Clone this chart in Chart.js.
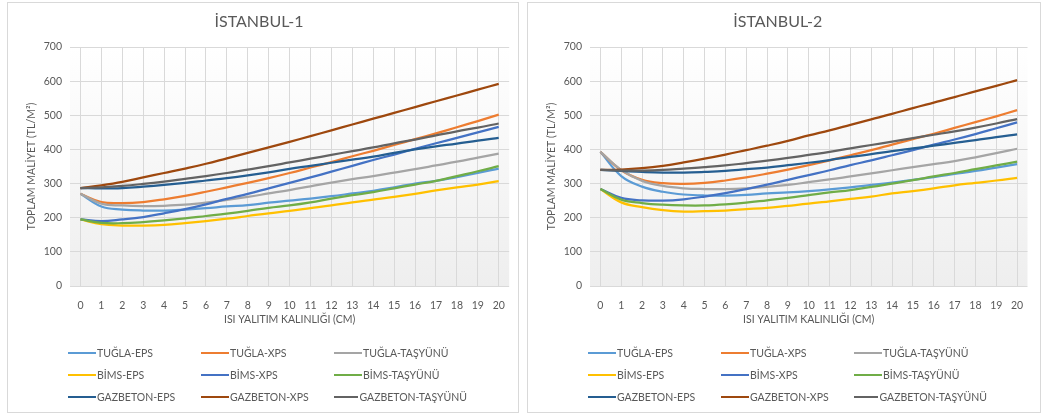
<!DOCTYPE html>
<html>
<head>
<meta charset="utf-8">
<script src="https://cdn.jsdelivr.net/npm/chart.js@4.4.1/dist/chart.umd.min.js"></script>
<style>
  body { margin: 0; background: #fff; font-family: Lato, sans-serif; }
  .box { position: absolute; top: 2px; height: 409px; border: 1px solid #d9d9d9; background: #fff; }
  #box1 { left: 7px; width: 510px; }
  #box2 { left: 527px; width: 512px; }
  .box canvas { position: absolute; left: 0; top: 0; }
  .legend { position: absolute; left: 60px; top: 339px; display: grid; grid-template-columns: 133px 133px 133px; }
  .legend div { height: 22px; display: flex; align-items: center; font-size: 10.5px; color: #595959; white-space: nowrap; }
  .legend span { display: inline-block; width: 28px; height: 2.5px; margin-right: 1px; }
</style>
</head>
<body>
<div class="box" id="box1"><canvas id="chart1"></canvas><div class="legend" id="legend1"></div></div>
<div class="box" id="box2"><canvas id="chart2"></canvas><div class="legend" id="legend2"></div></div>
<script>
// kategoriyalar (izolasyon kalinligi, cm)
const categories = ['0', '1', '2', '3', '4', '5', '6', '7', '8', '9', '10', '11', '12', '13', '14', '15', '16', '17', '18', '19', '20'];
const seriesNames = ['TUĞLA-EPS', 'TUĞLA-XPS', 'TUĞLA-TAŞYÜNÜ', 'BİMS-EPS', 'BİMS-XPS', 'BİMS-TAŞYÜNÜ', 'GAZBETON-EPS', 'GAZBETON-XPS', 'GAZBETON-TAŞYÜNÜ'];
const seriesColors = ['#5b9bd5', '#ed7d31', '#a5a5a5', '#ffc000', '#4472c4', '#70ad47', '#255e91', '#9e480e', '#636363'];
const yTicks = [0, 100, 200, 300, 400, 500, 600, 700];

// İSTANBUL-1
const tuglaEps1 = [270, 233, 224, 221, 221, 224, 228, 233, 237, 244, 250, 256, 263, 271, 279, 289, 300, 308, 319, 331, 344];
const tuglaXps1 = [270, 246, 243, 246, 254, 264, 276, 289, 302, 316, 331, 347, 363, 380, 396, 413, 430, 447, 465, 483, 502];
const tuglaTas1 = [270, 241, 236, 234, 235, 238, 244, 252, 261, 271, 281, 292, 303, 313, 322, 332, 342, 353, 364, 376, 388];
const bimsEps1 = [195, 181, 177, 177, 179, 184, 190, 197, 205, 213, 220, 228, 236, 245, 253, 261, 270, 280, 289, 297, 307];
const bimsXps1 = [195, 190, 195, 202, 213, 225, 239, 255, 270, 286, 302, 318, 335, 352, 369, 385, 402, 418, 434, 450, 466];
const bimsTas1 = [195, 185, 184, 187, 192, 198, 205, 212, 220, 229, 236, 245, 256, 266, 275, 286, 297, 308, 322, 336, 351];
const gazEps1 = [287, 286, 287, 291, 296, 302, 309, 316, 324, 333, 343, 352, 361, 370, 379, 390, 400, 409, 417, 426, 434];
const gazXps1 = [287, 295, 305, 318, 331, 344, 358, 374, 390, 406, 422, 439, 456, 473, 490, 507, 524, 541, 558, 575, 592];
const gazTas1 = [287, 289, 293, 299, 306, 314, 322, 331, 341, 351, 362, 373, 384, 395, 406, 418, 429, 441, 453, 464, 476];

// İSTANBUL-2
const tuglaEps2 = [393, 322, 291, 276, 268, 265, 265, 267, 271, 274, 278, 283, 289, 296, 303, 311, 319, 328, 337, 347, 357];
const tuglaXps2 = [393, 339, 311, 301, 299, 302, 309, 318, 329, 341, 354, 368, 383, 398, 414, 430, 446, 463, 480, 497, 515];
const tuglaTas2 = [393, 340, 308, 293, 286, 284, 284, 286, 290, 296, 304, 312, 321, 330, 339, 348, 357, 366, 377, 389, 402];
const bimsEps2 = [284, 245, 231, 222, 218, 219, 221, 225, 229, 235, 241, 248, 255, 262, 271, 278, 286, 295, 302, 309, 317];
const bimsXps2 = [284, 258, 251, 250, 254, 262, 272, 284, 297, 311, 325, 339, 354, 368, 383, 398, 414, 429, 445, 462, 479];
const bimsTas2 = [284, 253, 243, 238, 236, 236, 239, 244, 251, 258, 266, 274, 281, 290, 300, 310, 321, 331, 342, 353, 364];
const gazEps2 = [340, 337, 334, 332, 332, 334, 337, 342, 347, 354, 361, 369, 378, 386, 395, 403, 411, 419, 427, 436, 444];
const gazXps2 = [340, 341, 345, 352, 362, 373, 385, 398, 411, 425, 441, 456, 472, 488, 504, 521, 537, 553, 570, 586, 603];
const gazTas2 = [340, 338, 338, 340, 344, 348, 353, 360, 367, 375, 384, 393, 403, 413, 423, 433, 443, 453, 464, 476, 489];

const textColor = '#595959';
const gridColor = '#d9d9d9';

// plot alani icin acik gri gradient
const plotBackground = {
  id: 'plotBackground',
  beforeDraw(chart) {
    const { ctx, chartArea: a } = chart;
    const g = ctx.createLinearGradient(0, a.top, 0, a.bottom);
    g.addColorStop(0, '#ffffff');
    g.addColorStop(1, '#eeeeee');
    ctx.save();
    ctx.fillStyle = g;
    ctx.fillRect(a.left, a.top, a.right - a.left, a.bottom - a.top);
    ctx.restore();
  }
};

function makeChart(canvasId, legendId, width, title, seriesData) {
  const canvas = document.getElementById(canvasId);
  canvas.width = width;
  canvas.height = 340;
  canvas.style.width = width + 'px';
  canvas.style.height = '340px';

  const chart = new Chart(canvas.getContext('2d'), {
    type: 'line',
    data: {
      labels: categories,
      datasets: seriesNames.map(function (name, i) {
        return {
          label: name,
          data: seriesData[i],
          borderColor: seriesColors[i],
          backgroundColor: seriesColors[i],
          borderWidth: 2.25,
          pointRadius: 0,
          tension: 0.4,
          fill: false,
          order: -i
        };
      })
    },
    options: {
      responsive: false,
      animation: false,
      layout: { padding: { left: 0, right: width - 500 + (width === 510 ? -2 : 0.5), top: 0, bottom: 17 } },
      plugins: {
        legend: { display: false },
        tooltip: { enabled: false },
        title: {
          display: true,
          text: title,
          color: textColor,
          font: { family: 'Lato', size: 16, weight: 'normal' },
          padding: { top: 9.4, bottom: 15.4 }
        }
      },
      scales: {
        x: {
          offset: true,
          grid: { color: gridColor, offset: false, drawTicks: false },
          border: { display: false },
          ticks: { color: textColor, font: { family: 'Lato', size: 10.5 }, padding: 13, maxRotation: 0, autoSkip: false },
          title: {
            display: true,
            text: 'ISI YALITIM KALINLIĞI (CM)',
            color: textColor,
            font: { family: 'Lato', size: 10.5 },
            padding: { top: 0, bottom: 0 }
          },
          afterFit(axis) { axis.height = 40; }
        },
        y: {
          min: 0,
          max: 700,
          afterBuildTicks(axis) { axis.ticks = yTicks.map(v => ({ value: v })); },
          grid: { color: gridColor, drawTicks: false },
          border: { display: false },
          ticks: { color: textColor, font: { family: 'Lato', size: 10.5 }, padding: 8 },
          title: {
            display: true,
            text: 'TOPLAM MALİYET (TL/M²)',
            color: textColor,
            font: { family: 'Lato', size: 10.5 },
            padding: { top: 17.7, bottom: 0 }
          },
          afterFit(axis) { axis.width = 62; }
        }
      }
    },
    plugins: [plotBackground]
  });

  // HTML legend, 3 ustun
  const legend = document.getElementById(legendId);
  chart.data.datasets.forEach(function (ds) {
    const item = document.createElement('div');
    const swatch = document.createElement('span');
    swatch.style.background = ds.borderColor;
    item.appendChild(swatch);
    item.appendChild(document.createTextNode(ds.label));
    legend.appendChild(item);
  });
  return chart;
}

makeChart('chart1', 'legend1', 510, 'İSTANBUL-1',
  [tuglaEps1, tuglaXps1, tuglaTas1, bimsEps1, bimsXps1, bimsTas1, gazEps1, gazXps1, gazTas1]);
makeChart('chart2', 'legend2', 512, 'İSTANBUL-2',
  [tuglaEps2, tuglaXps2, tuglaTas2, bimsEps2, bimsXps2, bimsTas2, gazEps2, gazXps2, gazTas2]);
</script>
</body>
</html>
